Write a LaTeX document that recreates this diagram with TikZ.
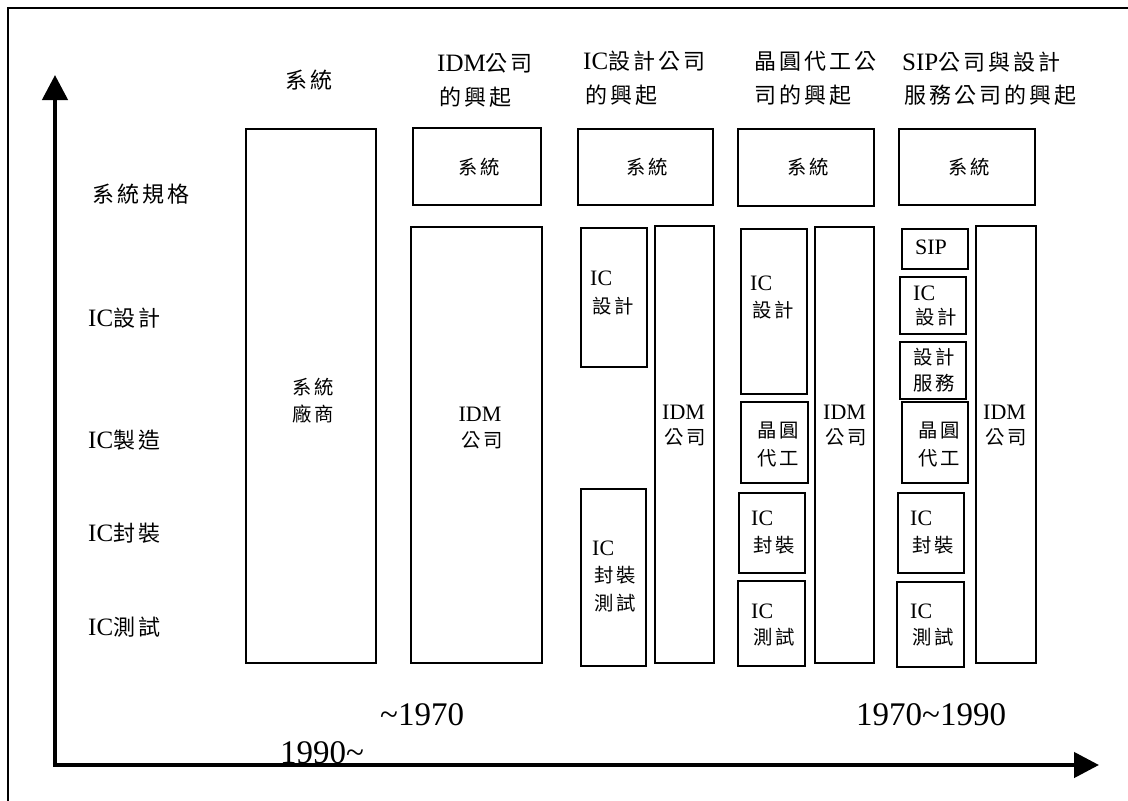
\documentclass[tikz,border=0pt]{standalone}
\usepackage{fontspec}
\setmainfont{Liberation Serif}
\newfontfamily\zhf[Scale=0.88,LetterSpace=13.6]{Noto Sans CJK TC}
\newcommand\zh[1]{{\zhf #1}}
\newcommand\hsz{\fontsize{25}{30}\selectfont}
\newcommand\bsz{\fontsize{22}{26}\selectfont}
\newcommand\ysz{\fontsize{33}{38}\selectfont}
\usetikzlibrary{arrows.meta}
\tikzset{
  box/.style={draw, line width=1.6pt, inner sep=0pt, outer sep=0pt},
  tl/.style={inner sep=0pt, anchor=base west},
  tc/.style={inner sep=0pt, anchor=base},
  head/.style={font=\hsz},
  btxt/.style={font=\bsz},
  year/.style={font=\ysz, inner sep=0pt, anchor=base west},
  axis/.style={line width=4.5pt, line join=miter},
}
\newcommand\bx[5]{\node[box, minimum width={(#4-#2)*1pt}, minimum height={(#5-#3)*1pt}] (#1) at ({(#2+#4)/2},{(#3+#5)/2}) {};}
\begin{document}
\begin{tikzpicture}[x=1pt,y=-1pt]
\useasboundingbox (0,0) rectangle (1128,801);
% frame
\coordinate (fa) at (8,801);
\coordinate (fb) at (8,8);
\coordinate (fc) at (1128,8);
\draw[line width=2pt] (fa) -- (fb) -- (fc);
% axes
\coordinate (vtip) at (55,75);
\coordinate (corner) at (55,765);
\coordinate (htip) at (1099,765);
\draw[axis, -{Triangle[length=25pt,width=25pt]}] (corner) -- (vtip);
\draw[axis, -{Triangle[length=25pt,width=25pt]}] ([xshift=-2.25pt]corner) -- (htip);
% row labels
\node[tl, head] (rl1) at (92,202) {\zh{系統規格}};
\node[tl, head] (rl2) at (88,326) {IC\zh{設計}};
\node[tl, head] (rl3) at (88,448) {IC\zh{製造}};
\node[tl, head] (rl4) at (88,541) {IC\zh{封裝}};
\node[tl, head] (rl5) at (88,635) {IC\zh{測試}};
% headings
\node[tc, head] (h1) at (309,88) {\zh{系統}};
\node[tl, head] (h2a) at (437,71) {IDM\zh{公司}};
\node[tl, head] (h2b) at (439,105) {\zh{的興起}};
\node[tl, head] (h3a) at (583,69) {IC\zh{設計公司}};
\node[tl, head] (h3b) at (585,103) {\zh{的興起}};
\node[tl, head] (h4a) at (754,69) {\zh{晶圓代工公}};
\node[tl, head] (h4b) at (754,103) {\zh{司的興起}};
\node[tl, head] (h5a) at (902,70) {SIP\zh{公司與設計}};
\node[tl, head] (h5b) at (904,103) {\zh{服務公司的興起}};
% column 1
\bx{c1}{246}{129}{376}{663}
\node[tc, btxt] (c1a) at (313,394) {\zh{系統}};
\node[tc, btxt] (c1b) at (313,421) {\zh{廠商}};
% column 2
\bx{c2sys}{413}{128}{541}{205}
\node[tc, btxt] (c2s) at (479,174) {\zh{系統}};
\bx{c2idm}{411}{227}{542}{663}
\node[tc, btxt] (c2a) at (480,421) {IDM};
\node[tc, btxt] (c2b) at (482,447) {\zh{公司}};
% column 3
\bx{c3sys}{578}{129}{713}{205}
\node[tc, btxt] (c3s) at (647,174) {\zh{系統}};
\bx{c3ic}{581}{228}{647}{367}
\node[tl, btxt] (c3a) at (590,285) {IC};
\node[tl, btxt] (c3b) at (592,313) {\zh{設計}};
\bx{c3idm}{655}{226}{714}{663}
\node[tl, btxt] (c3c) at (662,419) {IDM};
\node[tl, btxt] (c3d) at (664,444) {\zh{公司}};
\bx{c3pt}{581}{489}{646}{666}
\node[tl, btxt] (c3e) at (592,555) {IC};
\node[tl, btxt] (c3f) at (594,582) {\zh{封裝}};
\node[tl, btxt] (c3g) at (594,610) {\zh{測試}};
% column 4
\bx{c4sys}{738}{129}{874}{206}
\node[tc, btxt] (c4s) at (808,174) {\zh{系統}};
\bx{c4ic}{741}{229}{807}{394}
\node[tl, btxt] (c4a) at (750,290) {IC};
\node[tl, btxt] (c4b) at (752,317) {\zh{設計}};
\bx{c4fab}{741}{402}{808}{483}
\node[tc, btxt] (c4c) at (778,437) {\zh{晶圓}};
\node[tc, btxt] (c4d) at (778,465) {\zh{代工}};
\bx{c4pk}{739}{493}{805}{573}
\node[tl, btxt] (c4e) at (751,525) {IC};
\node[tl, btxt] (c4f) at (753,552) {\zh{封裝}};
\bx{c4ts}{738}{581}{805}{666}
\node[tl, btxt] (c4g) at (751,618) {IC};
\node[tl, btxt] (c4h) at (753,644) {\zh{測試}};
\bx{c4idm}{815}{227}{874}{663}
\node[tl, btxt] (c4i) at (823,419) {IDM};
\node[tl, btxt] (c4j) at (825,444) {\zh{公司}};
% column 5
\bx{c5sys}{899}{129}{1035}{205}
\node[tc, btxt] (c5s) at (969,174) {\zh{系統}};
\bx{c5sip}{902}{229}{968}{269}
\node[tc, btxt] (c5a) at (931,254) {SIP};
\bx{c5ic}{900}{277}{966}{334}
\node[tl, btxt] (c5b) at (913,300) {IC};
\node[tl, btxt] (c5c) at (915,324) {\zh{設計}};
\bx{c5ds}{900}{342}{966}{399}
\node[tl, btxt] (c5d) at (913,364) {\zh{設計}};
\node[tl, btxt] (c5e) at (913,390) {\zh{服務}};
\bx{c5fab}{902}{402}{968}{483}
\node[tc, btxt] (c5f) at (939,437) {\zh{晶圓}};
\node[tc, btxt] (c5g) at (939,465) {\zh{代工}};
\bx{c5pk}{898}{493}{964}{573}
\node[tl, btxt] (c5h) at (910,525) {IC};
\node[tl, btxt] (c5i) at (912,552) {\zh{封裝}};
\bx{c5ts}{897}{582}{964}{667}
\node[tl, btxt] (c5j) at (910,618) {IC};
\node[tl, btxt] (c5k) at (912,644) {\zh{測試}};
\bx{c5idm}{976}{226}{1036}{663}
\node[tl, btxt] (c5l) at (983,419) {IDM};
\node[tl, btxt] (c5m) at (985,444) {\zh{公司}};
% years
\node[year] (y1) at (380,725) {\textasciitilde 1970};
\node[year] (y2) at (856,725) {1970\textasciitilde 1990};
\node[year] (y3) at (280,763) {1990\textasciitilde};
\end{tikzpicture}
\end{document}
